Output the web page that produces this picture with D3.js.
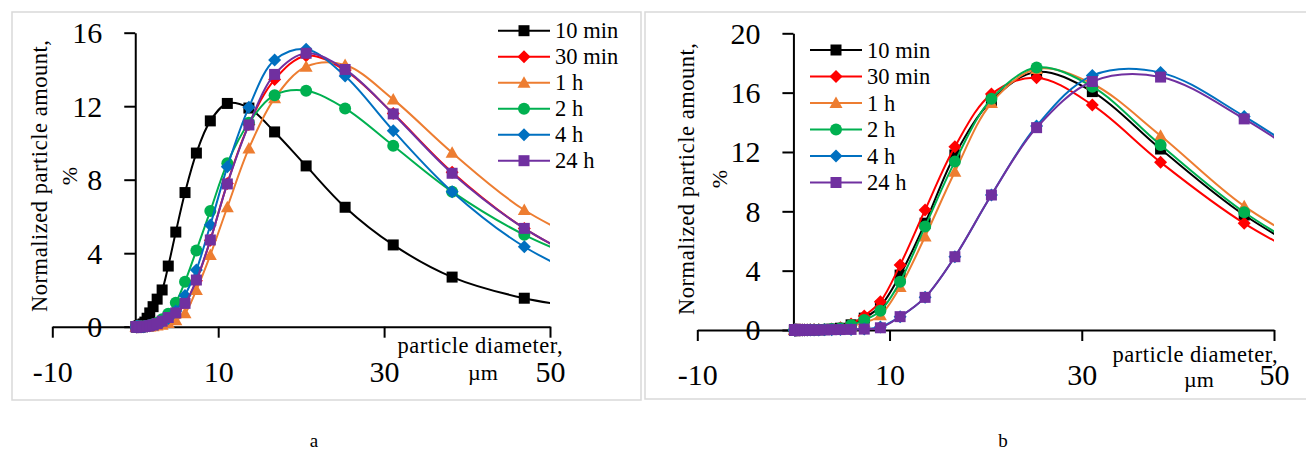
<!DOCTYPE html>
<html><head><meta charset="utf-8">
<script src="https://cdn.jsdelivr.net/npm/d3@7"></script>
<style>
body{margin:0;background:#fff}
svg{display:block}
text{font-family:"Liberation Serif","Times New Roman",serif;fill:#000}
</style>
</head><body><svg id="c" width="1306" height="452"></svg>
<script>
// particle diameter grid, µm
const diameters = [0.1, 0.12, 0.15, 0.18, 0.22, 0.28, 0.34, 0.42, 0.51, 0.63, 0.77, 0.95, 1.16, 1.43, 1.75, 2.15, 2.64, 3.24, 3.98, 4.89, 6.0, 7.37, 9.05, 11.1, 13.7, 16.8, 20.6, 25.3, 31.1, 38.2, 46.9, 57.6];

const seriesNames = ["10 min", "30 min", "1 h", "2 h", "4 h", "24 h"];
const seriesColors = ["#000000", "#FF0000", "#ED7D31", "#00B050", "#0070C0", "#7030A0"];
const seriesSymbols = ["square", "diamond", "triangle", "circle", "diamond", "square"];

// panel a
const a10min = [0,0,0,0,0.01,0.01,0.02,0.03,0.05,0.07,0.1,0.15,0.25,0.46,0.75,1.09,1.5,2.0,3.3,5.15,7.3,9.45,11.2,12.15,11.9,10.6,8.75,6.5,4.45,2.7,1.55,0.8];
const a30min = [0,0,0,0,0,0,0,0,0,0,0,0,0.01,0.02,0.05,0.08,0.12,0.2,0.35,0.65,1.25,2.5,4.7,7.8,11.0,13.45,14.75,13.95,11.6,8.4,5.35,2.8];
const a1h    = [0,0,0,0,0,0,0,0,0,0,0,0,0,0,0.01,0.03,0.06,0.1,0.2,0.35,0.73,2.0,3.9,6.5,9.7,12.43,14.15,14.24,12.37,9.47,6.35,3.9];
const a2h    = [0,0,0,0,0,0,0,0,0,0,0,0,0.02,0.04,0.08,0.13,0.22,0.4,0.7,1.3,2.45,4.15,6.3,8.9,11.1,12.6,12.84,11.88,9.85,7.35,5.0,3.0];
const a4h    = [0,0,0,0,0,0,0,0,0,0,0,0,0.01,0.02,0.05,0.08,0.14,0.25,0.45,0.85,1.7,3.09,5.53,8.7,11.94,14.51,15.1,13.64,10.67,7.35,4.35,2.0];
const a24h   = [0,0,0,0,0,0,0,0,0,0,0,0.01,0.01,0.03,0.06,0.1,0.17,0.3,0.5,0.75,1.27,2.54,4.72,7.77,10.98,13.73,14.88,14.0,11.58,8.35,5.35,2.8];

// panel b
const b10min = [0,0,0,0,0,0,0,0,0,0,0,0,0,0,0.01,0.01,0.02,0.03,0.06,0.12,0.35,0.8,1.6,3.7,7.2,11.8,15.45,17.4,16.07,12.2,7.75,3.7];
const b30min = [0,0,0,0,0,0,0,0,0,0,0,0,0,0,0.01,0.01,0.02,0.04,0.07,0.15,0.4,0.95,1.91,4.38,8.09,12.36,15.9,17.0,15.17,11.31,7.19,3.5];
const b1h    = [0,0,0,0,0,0,0,0,0,0,0,0,0,0,0,0.01,0.01,0.02,0.05,0.1,0.25,0.5,1.0,2.9,6.3,10.67,15.3,17.6,16.6,13.1,8.35,4.3];
const b2h    = [0,0,0,0,0,0,0,0,0,0,0,0,0,0,0.01,0.01,0.02,0.03,0.06,0.12,0.34,0.67,1.3,3.26,6.97,11.35,15.58,17.69,16.4,12.47,7.94,3.8];
const b4h    = [0,0,0,0,0,0,0,0,0,0,0,0,0,0,0,0,0,0.01,0.02,0.03,0.04,0.07,0.2,0.9,2.2,4.94,9.1,13.75,17.15,17.35,14.4,9.8];
const b24h   = [0,0,0,0,0,0,0,0,0,0,0,0,0,0,0,0,0,0.01,0.02,0.03,0.04,0.06,0.15,0.9,2.2,4.94,9.1,13.64,16.75,17.05,14.23,9.6];

const xTicks = [-10, 10, 30, 50];
const yTicksA = [0, 4, 8, 12, 16];
const yTicksB = [0, 4, 8, 12, 16, 20];
const yTitle = ["Normalized particle amount,", "%"];
const xTitle = ["particle diameter,", "µm"];

const svg = d3.select("#c");

function markerPath(sym) {
  if (sym === "square") return "M-5.5,-5.5H5.5V5.5H-5.5Z";
  if (sym === "diamond") return "M0,-6.5L6.5,0L0,6.5L-6.5,0Z";
  if (sym === "triangle") return "M0,-6.5L6.5,5L-6.5,5Z";
  return "M6,0A6,6 0 1,1 -6,0A6,6 0 1,1 6,0Z";
}

function drawPanel(cfg) {
  const g = svg.append("g");
  g.append("rect").attr("x", cfg.frame[0]).attr("y", cfg.frame[1])
    .attr("width", cfg.frame[2]).attr("height", cfg.frame[3])
    .attr("fill", "#fff").attr("stroke", "#d9d9d9").attr("stroke-width", 1.5);

  const x = d3.scaleLinear().domain([-10, 50]).range(cfg.xRange);
  const y = d3.scaleLinear().domain([0, cfg.yMax]).range(cfg.yRange);

  const fmt = d => String(d);
  const xAxis = g.append("g").attr("transform", `translate(0,${y(0)})`)
    .call(d3.axisBottom(x).tickValues(xTicks).tickSizeOuter(0).tickSizeInner(11).tickPadding(23).tickFormat(fmt));
  const yAxis = g.append("g").attr("transform", `translate(${x(0)},0)`)
    .call(d3.axisLeft(y).tickValues(cfg.yTicks).tickSizeOuter(0).tickSizeInner(11).tickPadding(22).tickFormat(fmt));
  [xAxis, yAxis].forEach(a => {
    a.selectAll("path,line").attr("stroke", "#000").attr("stroke-width", 2);
    a.selectAll("text").attr("font-size", 30).attr("font-family", "Liberation Serif").attr("fill", "#000");
  });
  xAxis.selectAll("text").attr("dy", null).attr("y", 55);
  yAxis.selectAll("text").attr("dy", "0.33em");

  // clip
  const cid = "clip" + cfg.id;
  g.append("clipPath").attr("id", cid).append("rect")
    .attr("x", x(-10)).attr("y", 0).attr("width", x(50) - x(-10)).attr("height", 452);

  const line = d3.line().x(d => x(d[0])).y(d => y(d[1])).curve(d3.curveCatmullRom.alpha(0.5));
  cfg.series.forEach((vals, i) => {
    const pts = diameters.map((d, k) => [d, vals[k]]);
    const sg = g.append("g");
    sg.append("path").attr("d", line(pts)).attr("fill", "none")
      .attr("stroke", seriesColors[i]).attr("stroke-width", 2).attr("clip-path", `url(#${cid})`);
    sg.selectAll("path.m").data(pts.filter(p => p[0] <= 50)).join("path").attr("class", "m")
      .attr("d", markerPath(seriesSymbols[i]))
      .attr("transform", p => `translate(${x(p[0])},${y(p[1])})`)
      .attr("fill", seriesColors[i]);
  });

  // legend
  const L = cfg.legend;
  seriesNames.forEach((name, i) => {
    const yy = L.y0 + i * L.dy;
    g.append("line").attr("x1", L.x0).attr("x2", L.x1).attr("y1", yy).attr("y2", yy)
      .attr("stroke", seriesColors[i]).attr("stroke-width", 2);
    g.append("path").attr("d", markerPath(seriesSymbols[i]))
      .attr("transform", `translate(${(L.x0 + L.x1) / 2},${yy})`).attr("fill", seriesColors[i]);
    g.append("text").attr("x", L.tx).attr("y", yy + 7.5).attr("font-size", 22.5).text(name);
  });

  // y title
  const T = cfg.yt;
  g.append("text").attr("transform", `translate(${T.x1},${T.cy}) rotate(-90)`)
    .attr("text-anchor", "middle").attr("font-size", 22.5)
    .attr("textLength", 272).attr("lengthAdjust", "spacing").text(yTitle[0]);
  g.append("text").attr("transform", `translate(${T.x2},${T.cy}) rotate(-90)`)
    .attr("text-anchor", "middle").attr("font-size", 22).text(yTitle[1]);

  // x title
  const X = cfg.xt;
  g.append("text").attr("x", X.cx).attr("y", X.y1).attr("text-anchor", "middle")
    .attr("font-size", 22.5).attr("textLength", 165).attr("lengthAdjust", "spacing").text(xTitle[0]);
  g.append("text").attr("x", X.cx2).attr("y", X.y2).attr("text-anchor", "middle")
    .attr("font-size", 22).text(xTitle[1]);

  svg.append("text").attr("x", cfg.letter[0]).attr("y", cfg.letter[1]).attr("text-anchor", "middle")
    .attr("font-size", 19).text(cfg.letter[2]);
}

drawPanel({
  id: "a", frame: [12, 12, 629, 388], xRange: [52.3, 550], yRange: [326.7, 32.7], yMax: 16, yTicks: yTicksA,
  series: [a10min, a30min, a1h, a2h, a4h, a24h],
  legend: {x0: 498, x1: 550, tx: 555, y0: 30.7, dy: 26},
  yt: {x1: 47, x2: 77, cy: 176},
  xt: {cx: 480, y1: 353, cx2: 483, y2: 380},
  letter: [314, 447, "a"]
});
drawPanel({
  id: "b", frame: [645, 12, 680, 387], xRange: [697.3, 1274], yRange: [330, 33.3], yMax: 20, yTicks: yTicksB,
  series: [b10min, b30min, b1h, b2h, b4h, b24h],
  legend: {x0: 810, x1: 862, tx: 867, y0: 50, dy: 26.5},
  yt: {x1: 694, x2: 727, cy: 179},
  xt: {cx: 1195, y1: 362, cx2: 1199, y2: 387},
  letter: [1003, 447, "b"]
});
</script>
</body></html>
